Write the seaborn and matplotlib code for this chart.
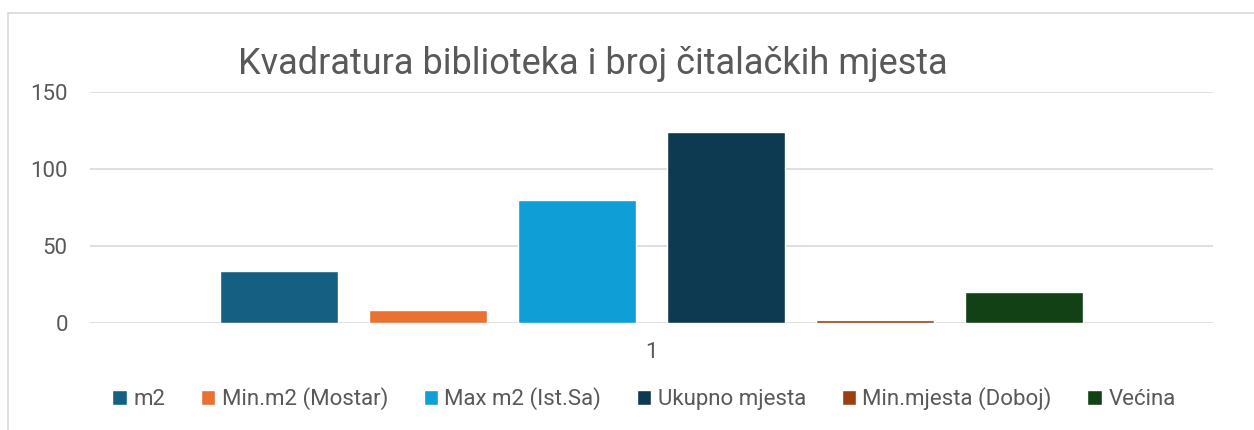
import pandas as pd
import matplotlib.pyplot as plt
import seaborn as sns
from matplotlib.lines import Line2D

# Chart data
category = ["1"]
series = ["m2", "Min.m2 (Mostar)", "Max m2 (Ist.Sa)", "Ukupno mjesta",
          "Min.mjesta (Doboj)", "Većina"]
values = [34, 8.5, 80, 124, 2, 20]
colors = ["#156082", "#E97132", "#0F9ED5", "#0E3A51", "#9C3F12", "#124116"]
y_ticks = [0, 50, 100, 150]

df = pd.DataFrame({
    "cat": category * len(series),
    "serie": series,
    "value": values,
})

sns.set_style("white")
plt.rcParams["font.family"] = ["Roboto", "DejaVu Sans"]
text_color = "#595959"

fig = plt.figure(figsize=(12.54, 4.30), dpi=100)
ax = fig.add_axes([90 / 1254, 1 - 323 / 430, 1123 / 1254, 231 / 430])

sns.barplot(data=df, x="cat", y="value", hue="serie", palette=colors,
            width=0.796, gap=0.21, saturation=1, ax=ax, legend=True)

ax.set_ylim(0, 150)
ax.set_xlim(-0.5, 0.5)
ax.set_yticks(y_ticks)
ax.grid(axis="y", color="#D9D9D9", linewidth=1.2)
ax.set_axisbelow(True)
for s in ax.spines.values():
    s.set_visible(False)
ax.tick_params(axis="both", length=0, labelsize=16, labelcolor=text_color)
ax.tick_params(axis="y", pad=16)
ax.tick_params(axis="x", pad=14)
ax.set_xlabel("")
ax.set_ylabel("")

# Legend at the bottom
handles, labels = ax.get_legend_handles_labels()
ax.get_legend().remove()
fig.legend(handles, labels, loc="center", bbox_to_anchor=(0.5135, 1 - 399 / 430),
           ncol=6, frameon=False, fontsize=16, handlelength=0.64,
           handleheight=0.64, handletextpad=0.3, columnspacing=1.6,
           labelcolor=text_color)

fig.text(593 / 1254, 1 - 64 / 430, "Kvadratura biblioteka i broj čitalačkih mjesta",
         ha="center", va="center", fontsize=26, color=text_color)

# Chart area border (cut at right and bottom)
fig.add_artist(Line2D([8 / 1254, 1], [1 - 13 / 430] * 2, color="#D9D9D9", lw=1.2))
fig.add_artist(Line2D([8 / 1254] * 2, [0, 1 - 13 / 430], color="#D9D9D9", lw=1.2))

fig.savefig("out.png", dpi=100, facecolor="white")
